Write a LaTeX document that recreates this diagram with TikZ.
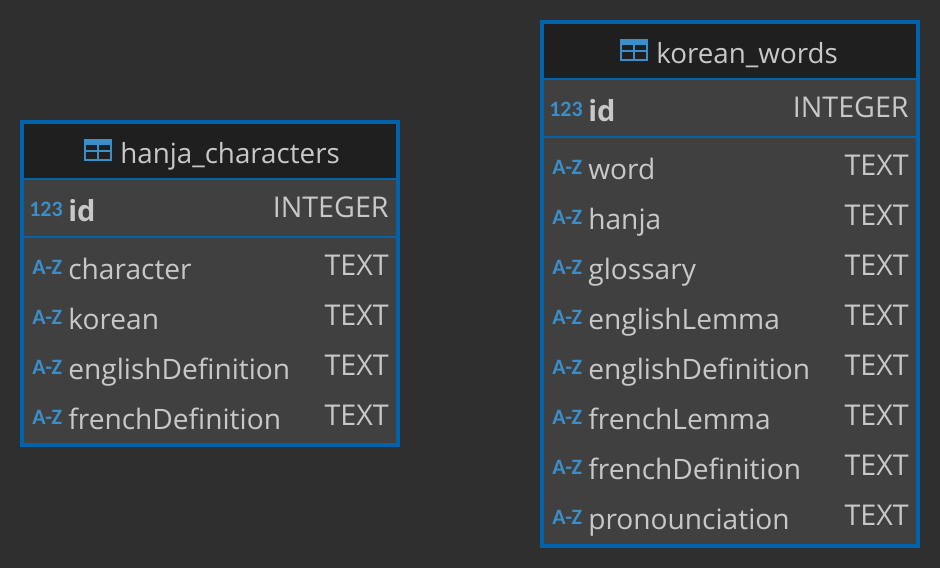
\documentclass[tikz,border=0pt]{standalone}
\usepackage{fontspec}
\setmainfont{Open Sans}
\newfontfamily\iconfont{Carlito}
\definecolor{canvasgray}{HTML}{2F2F2F}
\definecolor{headgray}{HTML}{1F1F1F}
\definecolor{rowgray}{HTML}{404040}
\definecolor{framblue}{HTML}{0063AC}
\definecolor{iconblue}{HTML}{3A8FCB}
\definecolor{labelgray}{HTML}{C8C8C8}
\tikzset{
	colname/.style={anchor=base west,inner sep=0pt,text=labelgray,font=\fontsize{16}{18}\selectfont},
	coltype/.style={anchor=base east,inner sep=0pt,text=labelgray,font=\fontsize{16.3}{18}\selectfont},
	coltitle/.style={colname,font=\fontsize{15.8}{18}\selectfont},
	colicon/.style={anchor=base west,inner sep=0pt,text=iconblue,font=\iconfont\fontsize{12.5}{14}\bfseries\selectfont},
	keyname/.style={colname,font=\fontsize{16.5}{18}\bfseries\selectfont},
	sepline/.style={framblue,line width=1.2pt},
	tabframe/.style={draw=framblue,line width=2.3pt}
}
\begin{document}
\begin{tikzpicture}[x=.02cm,y=-.02cm]
	\fill[canvasgray](0,0)rectangle(940,568);
	% hanja_characters
	\fill[rowgray](22,122)rectangle(398,445);
	\fill[headgray](22,122)rectangle(398,179);
	\draw[sepline](22,179)--(398,179);
	\draw[sepline](22,237)--(398,237);
	\draw[tabframe](22,122)rectangle(398,445);
	\fill[iconblue](84,139)rectangle(112,145);
	\draw[iconblue,line width=1pt](85,140)rectangle(111,160);
	\draw[iconblue,line width=1pt](85,151)--(111,151);
	\draw[iconblue,line width=1pt](98,145)--(98,160);
	\node[coltitle](hanjatitle)at(120,163){hanja\_characters};
	\node[colicon](hanjaidicon)at(29,216){123};
	\node[keyname](hanjaid)at(68,221){id};
	\node[coltype](hanjaidtype)at(389,217){INTEGER};
	\foreach \colname [count=\i from 0] in {character,korean,englishDefinition,frenchDefinition}{
		\node[colicon](hanjaicon\i)at(32,274+50*\i){A-Z};
		\node[colname](hanjacol\i)at(68,279+50*\i){\colname};
		\node[coltype](hanjatype\i)at(389,275+50*\i){TEXT};
	}
	% korean_words
	\fill[rowgray](542,22)rectangle(918,546);
	\fill[headgray](542,22)rectangle(918,79);
	\draw[sepline](542,79)--(918,79);
	\draw[sepline](542,137)--(918,137);
	\draw[tabframe](542,22)rectangle(918,546);
	\fill[iconblue](620,39)rectangle(648,45);
	\draw[iconblue,line width=1pt](621,40)rectangle(647,60);
	\draw[iconblue,line width=1pt](621,51)--(647,51);
	\draw[iconblue,line width=1pt](634,45)--(634,60);
	\node[coltitle](koreantitle)at(656,63){korean\_words};
	\node[colicon](koreanidicon)at(549,116){123};
	\node[keyname](koreanid)at(588,121){id};
	\node[coltype](koreanidtype)at(909,117){INTEGER};
	\foreach \colname [count=\i from 0] in {word,hanja,glossary,englishLemma,englishDefinition,frenchLemma,frenchDefinition,pronounciation}{
		\node[colicon](koreanicon\i)at(552,174+50*\i){A-Z};
		\node[colname](koreancol\i)at(588,179+50*\i){\colname};
		\node[coltype](koreantype\i)at(909,175+50*\i){TEXT};
	}
\end{tikzpicture}
\end{document}
